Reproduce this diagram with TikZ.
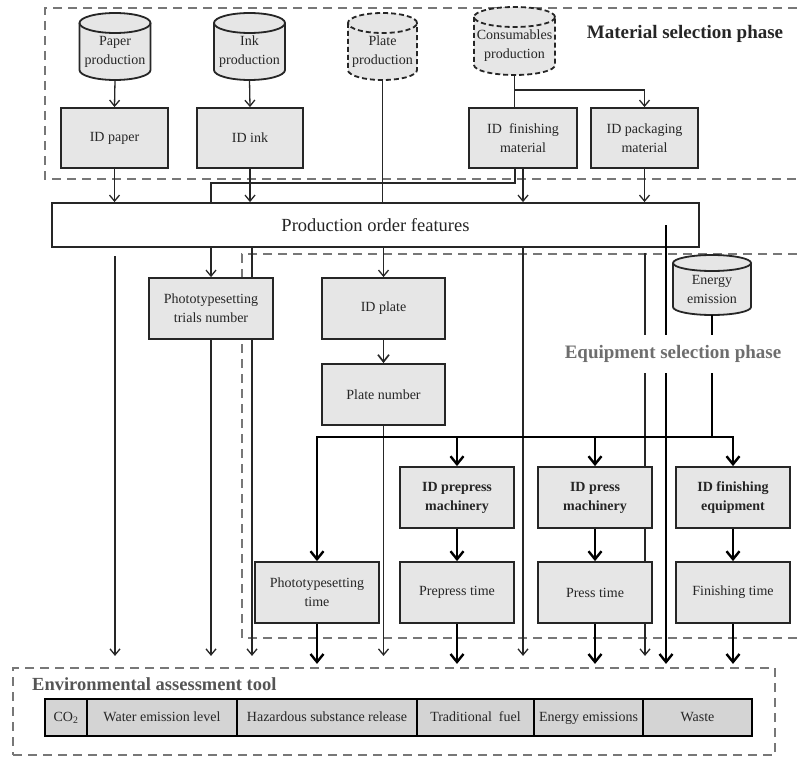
\documentclass[tikz,border=0pt]{standalone}
\usepackage{fontspec}
\setmainfont{Liberation Serif}
\usetikzlibrary{arrows.meta,calc,backgrounds}
\definecolor{boxfill}{HTML}{E6E6E6}
\definecolor{barfill}{HTML}{D4D4D4}
\definecolor{framegray}{HTML}{777777}
\definecolor{inkc}{HTML}{262626}
\definecolor{eqgray}{HTML}{6E6E6E}
\definecolor{envgray}{HTML}{555555}
\newcommand\boxfont{\fontsize{14}{19}\selectfont}
\tikzset{
  frameline/.style={draw=framegray, line width=2.2pt, dash pattern=on 9pt off 6pt},
  box/.style={draw=inkc, line width=1.8pt, fill=boxfill, align=center, text=inkc, font=\boxfont, inner sep=2pt},
  bbox/.style={box, font=\boxfont\bfseries},
  barcell/.style={draw=black, line width=2.2pt, fill=barfill, minimum height=37pt, inner sep=0pt, text height=10pt, text depth=3pt, font=\boxfont, text=inkc},
  cylfill/.style={fill=boxfill},
  cylline/.style={draw=inkc, line width=1.8pt},
  cyldash/.style={dash pattern=on 5pt off 3pt},
  cyltext/.style={align=center, text=inkc, font=\boxfont, inner sep=0pt},
  thinline/.style={draw=inkc, line width=1.3pt},
  thinarrow/.style={thinline, -{Straight Barb[length=6pt,width=10pt]}},
  midarrow/.style={draw=inkc, line width=1.7pt, -{Straight Barb[length=7pt,width=11pt]}},
  thickline/.style={draw=black, line width=2.4pt},
  thickarrow/.style={thickline, -{Straight Barb[length=8pt,width=13pt]}},
  tothin/.style={shorten >=11pt},
  tothick/.style={shorten >=3pt},
}
% [style]{name}{cx}{ytop}{ybot}{halfwidth}{ry}{text}
\newcommand\drum[8][]{%
  \fill[cylfill] (#3-#6,#4+#7) -- (#3-#6,#5-#7) arc[start angle=180,end angle=360,x radius=#6pt,y radius=#7pt] -- (#3+#6,#4+#7) -- cycle;
  \fill[cylfill] (#3,#4+#7) ellipse[x radius=#6pt,y radius=#7pt];
  \draw[cylline,#1] (#3-#6,#4+#7) -- (#3-#6,#5-#7) arc[start angle=180,end angle=360,x radius=#6pt,y radius=#7pt] -- (#3+#6,#4+#7);
  \draw[cylline,#1] (#3,#4+#7) ellipse[x radius=#6pt,y radius=#7pt];
  \node[cyltext] (#2) at (#3,{(#4+#5)/2+#7/2}) {#8};
  \coordinate (#2-b) at (#3,#5);
}
\begin{document}
\begin{tikzpicture}[x=1pt,y=-1pt]
\useasboundingbox (0,0) rectangle (797,757);

% cylinders
\drum{paper}{115}{13}{80}{35.5}{10}{Paper\\production}
\drum{ink}{249.5}{13}{80}{35.5}{10}{Ink\\production}
\drum[cyldash]{plate}{382.5}{13}{80}{34.5}{10}{Plate\\production}
\drum[cyldash]{cons}{514.5}{7}{75}{40.5}{10}{Consumables\\production}
\drum{energy}{712}{255}{315}{39}{8}{Energy\\emission}

% boxes
\node[box, minimum width=107pt, minimum height=60pt] (idpaper) at (114.5,138) {ID paper};
\node[box, minimum width=106pt, minimum height=60pt] (idink) at (250,138) {ID ink};
\node[box, minimum width=108pt, minimum height=60pt] (idfin) at (523,138) {ID~ finishing\\material};
\node[box, minimum width=107pt, minimum height=60pt] (idpack) at (644.5,138) {ID packaging\\material};
\node[box, fill=white, minimum width=647pt, minimum height=44pt, font=\fontsize{18.5}{22}\selectfont] (prodorder) at (375.5,225) {Production order features};
\node[box, minimum width=124pt, minimum height=61pt] (phototrials) at (211,308.5) {Phototypesetting\\trials number};
\node[box, minimum width=123pt, minimum height=61pt] (idplate) at (383.5,308.5) {ID plate};
\node[box, minimum width=123pt, minimum height=61pt] (platenum) at (383.5,394.5) {Plate number};
\node[box, minimum width=124pt, minimum height=61pt] (phototime) at (317,592.5) {Phototypesetting\\time};
\node[bbox, minimum width=114pt, minimum height=61pt] (idprepress) at (457,497.5) {ID prepress\\machinery};
\node[box, minimum width=114pt, minimum height=61pt] (prepresstime) at (457,592.5) {Prepress time};
\node[bbox, minimum width=114pt, minimum height=61pt] (idpress) at (595,497.5) {ID press\\machinery};
\node[box, minimum width=114pt, minimum height=61pt] (presstime) at (595,592.5) {Press time};
\node[bbox, minimum width=114pt, minimum height=61pt] (idfineq) at (733,497.5) {ID finishing\\equipment};
\node[box, minimum width=114pt, minimum height=61pt] (fintime) at (733,592.5) {Finishing time};

% environmental assessment tool
\node[frameline, minimum width=762pt, minimum height=87pt, inner sep=0pt] (env) at (394,711.5) {};
\node[anchor=west, inner sep=0pt, text=envgray, font=\bfseries\fontsize{18.5}{22}\selectfont] (envtitle) at (32,684) {Environmental assessment tool};
\node[barcell, minimum width=42pt] (co2) at (66,717.5) {CO\textsubscript{2}};
\node[barcell, minimum width=150pt] (water) at (162,717.5) {Water emission level};
\node[barcell, minimum width=180pt] (hazard) at (327,717.5) {Hazardous substance release};
\node[barcell, minimum width=117pt] (trad) at (475.5,717.5) {Traditional~ fuel};
\node[barcell, minimum width=109pt] (enem) at (588.5,717.5) {Energy emissions};
\node[barcell, minimum width=109pt] (waste) at (697.5,717.5) {Waste};

% titles
\node[inner sep=0pt, text=inkc, font=\bfseries\fontsize{19}{22}\selectfont] (mattitle) at (685,34) {Material selection phase};

% background: frames and thin connectors
\begin{scope}[on background layer]
\draw[frameline] (797,8) -- (45,8) -- (45,179) -- (797,179);
\draw[frameline] (797,254) -- (242,254) -- (242,638) -- (797,638);

\draw[thinarrow] (paper-b) -- (idpaper.north);
\draw[thinarrow] (ink-b) -- (idink.north);
\draw[thinline] (plate-b) -- (plate-b |- prodorder.north);
\draw[thinline] (cons-b) -- (cons-b |- idfin.north);
\coordinate (cj) at (514.5,90);
\draw[thinarrow] (cj) -| (idpack.north);
\draw[thinarrow] (idpaper.south) -- (idpaper.south |- prodorder.north);
\draw[thinarrow] (idink.south) -- (idink.south |- prodorder.north);
\coordinate (fj) at (515,183);
\draw[thinline] (fj |- idfin.south) -- (fj) -| (phototrials.north |- prodorder.north);
\draw[thinarrow] (phototrials.north |- prodorder.south) -- (phototrials.north);
\coordinate (fx) at (523,0);
\draw[thinarrow] (fx |- idfin.south) -- (fx |- prodorder.north);
\draw[thinarrow,tothin] (fx |- prodorder.south) -- (fx |- env.north);
\draw[thinarrow] (idpack.south) -- (idpack.south |- prodorder.north);
\coordinate (s1) at (115,256);
\draw[thinarrow,tothin] (s1) -- (s1 |- env.north);
\draw[thinarrow,tothin] (phototrials.south) -- (phototrials.south |- env.north);
\coordinate (s2) at (252,0);
\draw[thinarrow,tothin] (s2 |- prodorder.south) -- (s2 |- env.north);
\draw[thinarrow] (idplate.north |- prodorder.south) -- (idplate.north);
\draw[midarrow] (idplate.south) -- (platenum.north);
\draw[thinarrow,tothin] (platenum.south) -- (platenum.south |- env.north);
\coordinate (s3) at (645,253);
\draw[thinarrow,tothin] (s3) -- (s3 |- env.north);
\end{scope}

% thick connectors
\coordinate (t1) at (666,225);
\draw[thickarrow,tothick] (t1) -- (t1 |- env.north);
\coordinate (bus) at (712,437);
\draw[thickline] (energy-b) -- (bus);
\draw[thickarrow] (bus) -| (phototime.north);
\draw[thickarrow] (bus) -| (idfineq.north);
\draw[thickarrow] (idprepress.north |- bus) -- (idprepress.north);
\draw[thickarrow] (idpress.north |- bus) -- (idpress.north);
\draw[thickarrow] (idprepress.south) -- (prepresstime.north);
\draw[thickarrow] (idpress.south) -- (presstime.north);
\draw[thickarrow] (idfineq.south) -- (fintime.north);
\draw[thickarrow,tothick] (phototime.south) -- (phototime.south |- env.north);
\draw[thickarrow,tothick] (prepresstime.south) -- (prepresstime.south |- env.north);
\draw[thickarrow,tothick] (presstime.south) -- (presstime.south |- env.north);
\draw[thickarrow,tothick] (fintime.south) -- (fintime.south |- env.north);

\node[fill=white, inner xsep=1pt, inner ysep=10pt, text=eqgray, font=\bfseries\fontsize{19}{22}\selectfont] (eqtitle) at (673,354) {Equipment selection phase};
\end{tikzpicture}
\end{document}
